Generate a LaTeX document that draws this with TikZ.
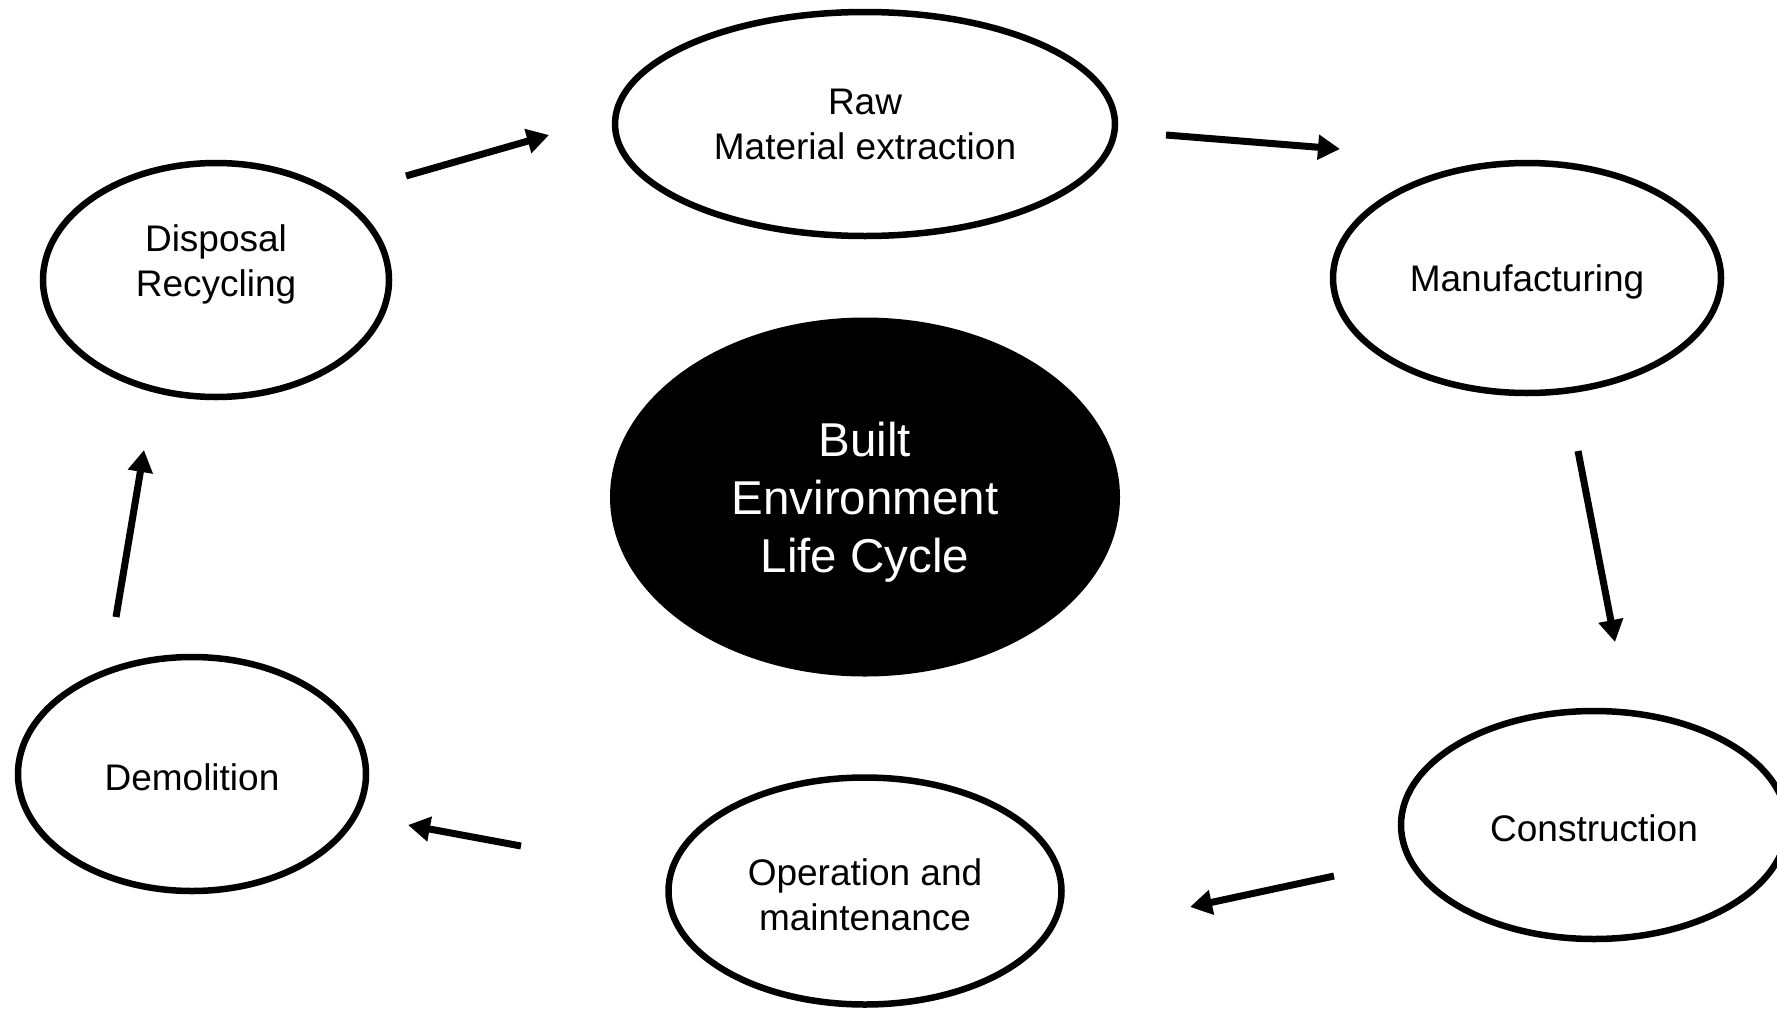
\documentclass[tikz,border=0pt]{standalone}
\usepackage{fontspec}
\setmainfont{Liberation Sans}
\usetikzlibrary{arrows.meta,shapes.geometric}

\begin{document}
\begin{tikzpicture}[x=1pt,y=-1pt,
  stage/.style={ellipse, draw=black, line width=6.5pt, fill=white, inner sep=0pt,
    align=center, font=\fontsize{37}{45}\selectfont},
  hub/.style={ellipse, fill=black, text=white, inner sep=0pt,
    align=center, font=\fontsize{47.5}{58}\selectfont},
  flow/.style={line width=7pt, -{Triangle[length=22pt,width=24pt]}}
]
\useasboundingbox (0,0) rectangle (1777,1009);
\clip (0,0) rectangle (1777,1009);

% life-cycle stages
\node[stage, minimum width=500pt, minimum height=224pt] (raw) at (865,124) {Raw\\Material extraction};
\node[stage, minimum width=388pt, minimum height=230pt, text height=34pt] (man) at (1527,278) {Manufacturing};
\node[stage, minimum width=386pt, minimum height=228pt, text height=34pt] (con) at (1594,825) {Construction};
\node[stage, minimum width=393pt, minimum height=227pt, text height=79pt] (ope) at (865,891) {Operation and\\maintenance};
\node[stage, minimum width=348pt, minimum height=234pt, text height=33pt] (dem) at (192,774) {Demolition};
\node[stage, minimum width=346pt, minimum height=234pt, text depth=38pt] (dis) at (216,280) {Disposal\\Recycling};

% central hub
\node[hub, minimum width=510pt, minimum height=359pt, text height=160pt] (hub) at (865,497) {Built\\Environment\\Life Cycle};

% arrow end points between the stages
\coordinate (a1s) at (406,176);   \coordinate (a1e) at (549,135);
\coordinate (a2s) at (1166,135);  \coordinate (a2e) at (1340,149);
\coordinate (a3s) at (1578,451);  \coordinate (a3e) at (1615,642);
\coordinate (a4s) at (1334,876);  \coordinate (a4e) at (1190,907);
\coordinate (a5s) at (521,846);   \coordinate (a5e) at (408,825);
\coordinate (a6s) at (116,617);   \coordinate (a6e) at (144,450);

\draw[flow] (a1s) -- (a1e);
\draw[flow] (a2s) -- (a2e);
\draw[flow] (a3s) -- (a3e);
\draw[flow] (a4s) -- (a4e);
\draw[flow] (a5s) -- (a5e);
\draw[flow] (a6s) -- (a6e);
\end{tikzpicture}
\end{document}
